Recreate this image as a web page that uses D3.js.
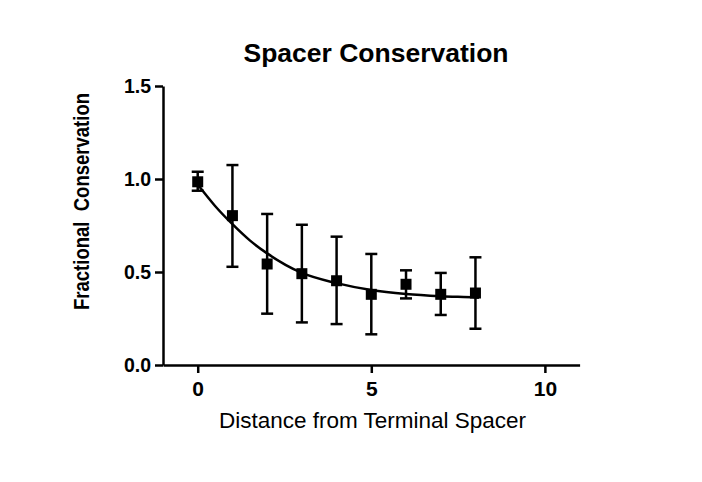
<!DOCTYPE html>
<html>
<head>
<meta charset="utf-8">
<script src="https://cdn.jsdelivr.net/npm/d3@7"></script>
<style>
  body { margin: 0; background: #fff; }
  svg { font-family: Arial, "Liberation Sans", sans-serif; }
</style>
</head>
<body>
<div id="chart"></div>
<script>
// distance from terminal spacer
var distance = [0, 1, 2, 3, 4, 5, 6, 7, 8];
// mean fractional conservation
var meanValue = [0.985, 0.803, 0.543, 0.491, 0.453, 0.380, 0.434, 0.380, 0.387];
// error bar ends
var errHigh = [1.039, 1.075, 0.812, 0.754, 0.690, 0.597, 0.509, 0.495, 0.579];
var errLow = [0.937, 0.528, 0.276, 0.229, 0.220, 0.165, 0.358, 0.269, 0.195];
// fitted curve
var fitX = [0, 0.5, 1, 1.5, 2, 3, 4, 5, 6, 7, 8, 8.1];
var fitY = [0.970, 0.855, 0.757, 0.670, 0.600, 0.495, 0.440, 0.403, 0.382, 0.370, 0.363, 0.362];
var xTicks = [0, 5, 10];
var yTicks = [0.0, 0.5, 1.0, 1.5];

var points = distance.map(function(d, i) {
  return { x: d, y: meanValue[i], hi: errHigh[i], lo: errLow[i] };
});
var fit = fitX.map(function(d, i) { return { x: d, y: fitY[i] }; });

var svg = d3.select("#chart").append("svg")
  .attr("width", 702)
  .attr("height", 482);

var xScale = d3.scaleLinear().domain([-1, 11]).range([163, 579.6]);
var yScale = d3.scaleLinear().domain([0, 1.5]).range([365, 86]);

// x axis
var xAxis = d3.axisBottom(xScale).tickValues(xTicks).tickSize(8).tickSizeOuter(0).tickPadding(8);
var gx = svg.append("g").attr("transform", "translate(0,365)").call(xAxis);
gx.attr("font-family", null);
gx.select(".domain").attr("stroke", "#000").attr("stroke-width", 2.5);
gx.selectAll(".tick line").attr("stroke", "#000").attr("stroke-width", 2.5);
gx.selectAll(".tick text")
  .style("font-size", "21px").style("font-weight", "bold").attr("fill", "#000");

// y axis
var yAxis = d3.axisLeft(yScale).tickValues(yTicks).tickFormat(d3.format(".1f"))
  .tickSize(8).tickSizeOuter(0).tickPadding(4);
var gy = svg.append("g").attr("transform", "translate(163,0)").call(yAxis);
gy.attr("font-family", null);
gy.select(".domain").attr("stroke", "#000").attr("stroke-width", 2.5);
gy.selectAll(".tick line").attr("stroke", "#000").attr("stroke-width", 2.5);
gy.selectAll(".tick text")
  .style("font-size", "19.5px").style("font-weight", "bold").attr("fill", "#000");

// fitted curve
var line = d3.line()
  .x(function(d) { return xScale(d.x); })
  .y(function(d) { return yScale(d.y); })
  .curve(d3.curveMonotoneX);

svg.append("path")
  .datum(fit)
  .attr("d", line)
  .attr("fill", "none")
  .attr("stroke", "#000")
  .attr("stroke-width", 2.5);

// error bars
var capW = 6;
var bars = svg.append("g").selectAll("g").data(points).join("g");
bars.append("line")
  .attr("x1", function(d) { return xScale(d.x); })
  .attr("x2", function(d) { return xScale(d.x); })
  .attr("y1", function(d) { return yScale(d.hi); })
  .attr("y2", function(d) { return yScale(d.lo); })
  .attr("stroke", "#000").attr("stroke-width", 2.5);
bars.append("line")
  .attr("x1", function(d) { return xScale(d.x) - capW; })
  .attr("x2", function(d) { return xScale(d.x) + capW; })
  .attr("y1", function(d) { return yScale(d.hi); })
  .attr("y2", function(d) { return yScale(d.hi); })
  .attr("stroke", "#000").attr("stroke-width", 2.5);
bars.append("line")
  .attr("x1", function(d) { return xScale(d.x) - capW; })
  .attr("x2", function(d) { return xScale(d.x) + capW; })
  .attr("y1", function(d) { return yScale(d.lo); })
  .attr("y2", function(d) { return yScale(d.lo); })
  .attr("stroke", "#000").attr("stroke-width", 2.5);

// square markers
var sq = 11;
svg.append("g").selectAll("rect").data(points).join("rect")
  .attr("x", function(d) { return xScale(d.x) - sq / 2; })
  .attr("y", function(d) { return yScale(d.y) - sq / 2; })
  .attr("width", sq)
  .attr("height", sq)
  .attr("fill", "#000");

// title
svg.append("text")
  .attr("x", 376)
  .attr("y", 61.5)
  .attr("text-anchor", "middle")
  .style("font-size", "26.5px")
  .style("font-weight", "bold")
  .text("Spacer Conservation");

// x axis name
svg.append("text")
  .attr("x", 372.5)
  .attr("y", 428)
  .attr("text-anchor", "middle")
  .style("font-size", "22.5px")
  .text("Distance from Terminal Spacer");

// y axis name
svg.append("text")
  .attr("transform", "translate(89,201.5) rotate(-90)")
  .attr("text-anchor", "middle")
  .attr("xml:space", "preserve")
  .attr("textLength", 217)
  .attr("lengthAdjust", "spacingAndGlyphs")
  .style("white-space", "pre")
  .style("font-size", "22px")
  .style("font-weight", "bold")
  .text("Fractional  Conservation");
</script>
</body>
</html>
